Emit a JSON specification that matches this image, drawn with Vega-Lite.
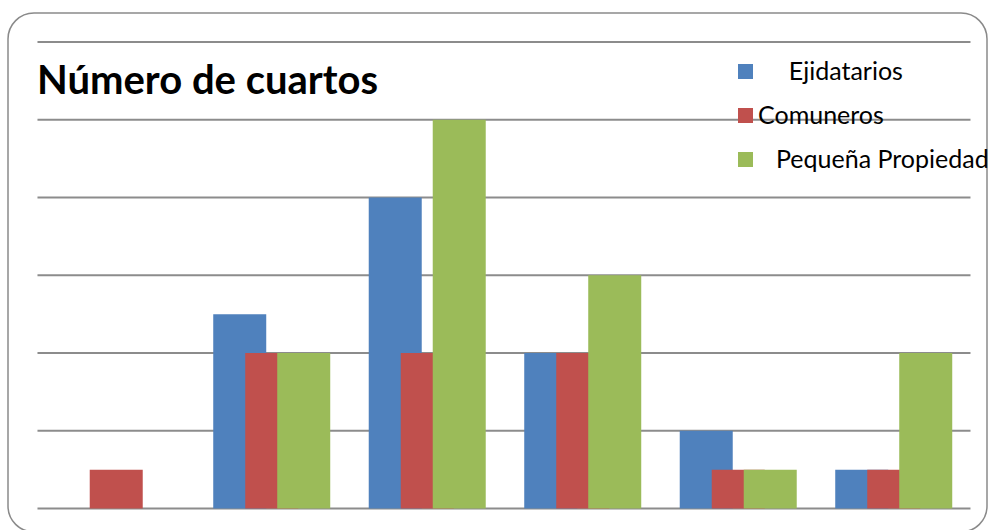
{
  "$schema": "https://vega.github.io/schema/vega-lite/v6.json",
  "width": 979,
  "height": 519,
  "autosize": {"type": "none"},
  "padding": {"left": 8, "top": 13, "right": 3, "bottom": 0},
  "background": "white",
  "config": {
    "font": "Lato",
    "view": {"stroke": "#8a8a8a", "strokeWidth": 1.5, "cornerRadius": 26}
  },
  "title": {
    "text": "Número de cuartos",
    "anchor": "start",
    "frame": "group",
    "orient": "top",
    "offset": 0,
    "dx": 29,
    "dy": 121,
    "baseline": "alphabetic",
    "font": "Lato",
    "fontSize": 40,
    "fontWeight": "bold",
    "color": "#000000"
  },
  "datasets": {
    "cuartos": [
      {"cuartos": "1", "serie": "Ejidatarios", "valor": 0},
      {"cuartos": "1", "serie": "Comuneros", "valor": 1},
      {"cuartos": "1", "serie": "Pequeña Propiedad", "valor": 0},
      {"cuartos": "2", "serie": "Ejidatarios", "valor": 5},
      {"cuartos": "2", "serie": "Comuneros", "valor": 4},
      {"cuartos": "2", "serie": "Pequeña Propiedad", "valor": 4},
      {"cuartos": "3", "serie": "Ejidatarios", "valor": 8},
      {"cuartos": "3", "serie": "Comuneros", "valor": 4},
      {"cuartos": "3", "serie": "Pequeña Propiedad", "valor": 10},
      {"cuartos": "4", "serie": "Ejidatarios", "valor": 4},
      {"cuartos": "4", "serie": "Comuneros", "valor": 4},
      {"cuartos": "4", "serie": "Pequeña Propiedad", "valor": 6},
      {"cuartos": "5", "serie": "Ejidatarios", "valor": 2},
      {"cuartos": "5", "serie": "Comuneros", "valor": 1},
      {"cuartos": "5", "serie": "Pequeña Propiedad", "valor": 1},
      {"cuartos": "6", "serie": "Ejidatarios", "valor": 1},
      {"cuartos": "6", "serie": "Comuneros", "valor": 1},
      {"cuartos": "6", "serie": "Pequeña Propiedad", "valor": 4}
    ],
    "rejilla": [
      {"v": 0}, {"v": 2}, {"v": 4}, {"v": 6}, {"v": 8}, {"v": 10}, {"v": 12}
    ]
  },
  "layer": [
    {
      "data": {"name": "rejilla"},
      "mark": {"type": "rule", "color": "#8c8c8c", "strokeWidth": 1.8},
      "encoding": {
        "x": {"datum": "1", "type": "nominal", "bandPosition": 0,
              "scale": {"type": "band", "domain": ["1", "2", "3", "4", "5", "6"], "paddingInner": 0, "paddingOuter": 0.1479, "align": 0.641},
              "axis": null},
        "x2": {"datum": "6", "bandPosition": 1},
        "y": {"field": "v", "type": "quantitative",
              "scale": {"domain": [-0.6045, 12.746], "nice": false},
              "axis": null}
      }
    },
    {
      "data": {"name": "cuartos"},
      "transform": [{"filter": "datum.serie == 'Ejidatarios'"}],
      "mark": {"type": "bar", "width": 53, "xOffset": -31},
      "encoding": {
        "x": {"field": "cuartos", "type": "nominal", "axis": null},
        "y": {"field": "valor", "type": "quantitative", "axis": null},
        "color": {
          "field": "serie", "type": "nominal",
          "scale": {"domain": ["Ejidatarios", "Comuneros", "Pequeña Propiedad"], "range": ["#4F81BD", "#C0504D", "#9BBB59"]},
          "legend": {
            "orient": "none", "legendX": 725, "legendY": 46,
            "title": null, "padding": 0,
            "symbolType": "square", "symbolSize": 225, "symbolStrokeWidth": 0,
            "labelFont": "Lato", "labelFontSize": 25, "labelColor": "#000000",
            "labelOffset": 0, "rowPadding": 18, "labelLimit": 400,
            "labelExpr": "datum.label == 'Ejidatarios' ? '\u2800\u00a0\u00a0Ejidatarios' : datum.label == 'Pequeña Propiedad' ? '\u2800Pequeña Propiedad' : datum.label"
          }
        }
      }
    },
    {
      "data": {"name": "cuartos"},
      "transform": [{"filter": "datum.serie == 'Comuneros'"}],
      "mark": {"type": "bar", "width": 53, "xOffset": 1},
      "encoding": {
        "x": {"field": "cuartos", "type": "nominal", "axis": null},
        "y": {"field": "valor", "type": "quantitative", "axis": null},
        "color": {"field": "serie", "type": "nominal", "legend": null}
      }
    },
    {
      "data": {"name": "cuartos"},
      "transform": [{"filter": "datum.serie == 'Pequeña Propiedad'"}],
      "mark": {"type": "bar", "width": 53, "xOffset": 33},
      "encoding": {
        "x": {"field": "cuartos", "type": "nominal", "axis": null},
        "y": {"field": "valor", "type": "quantitative", "axis": null},
        "color": {"field": "serie", "type": "nominal", "legend": null}
      }
    }
  ]
}
